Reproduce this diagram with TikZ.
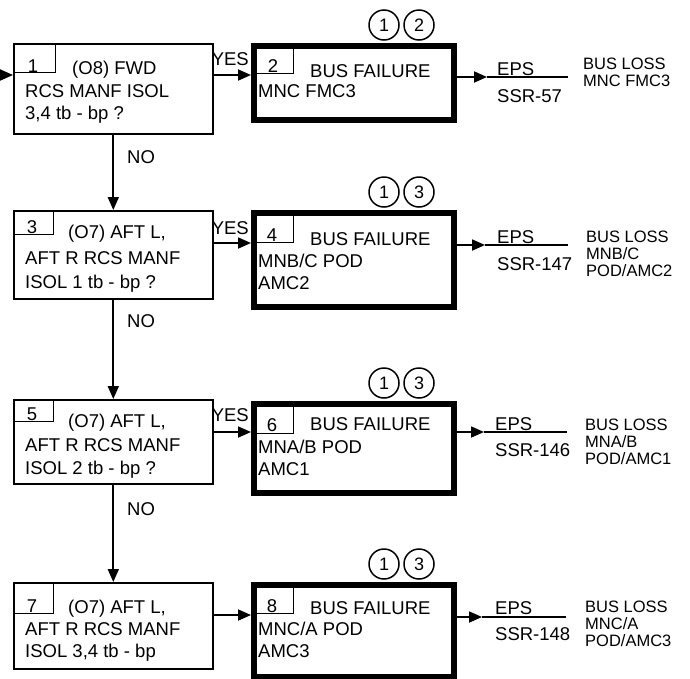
\documentclass[tikz,border=0pt]{standalone}
\usepackage{fontspec}
\setmainfont{Liberation Sans}
\usetikzlibrary{arrows.meta}
\begin{document}
\begin{tikzpicture}[x=1pt,y=-1pt,
  lbox/.style={draw, line width=1.6pt, minimum width=199pt, anchor=north west, inner sep=0pt},
  rbox/.style={draw, line width=5.5pt, minimum width=200pt, anchor=north west, inner sep=0pt},
  nbox/.style={draw, line width=1.4pt, anchor=north west, inner sep=0pt},
  txt/.style={anchor=base west, inner sep=0pt, font=\fontsize{18.5}{22}\selectfont},
  dig/.style={anchor=base, inner sep=0pt, font=\fontsize{18.5}{22}\selectfont},
  loss/.style={anchor=base west, inner sep=0pt, font=\fontsize{16.5}{16}\selectfont},
  circ/.style={draw, circle, line width=1.5pt, minimum size=30pt, inner sep=0pt, font=\fontsize{18}{18}\selectfont},
  arr/.style={line width=1.8pt, -{Triangle[length=13pt,width=11pt]}},
  ln/.style={line width=1.8pt},
]
\useasboundingbox (0,0) rectangle (690,678);

% ---------- Row 1 ----------
\node[lbox, minimum height=90pt] (b1) at (13,43) {};
\node[nbox, minimum width=42pt, minimum height=29pt] (n1) at (13,43) {};
\node[dig] (d1) at (33,72) {1};
\node[txt] (t1a) at (72,74) {(O8) FWD};
\node[txt] (t1b) at (25,97) {RCS MANF ISOL};
\node[txt] (t1c) at (25,119) {3,4 tb - bp ?};

\node[rbox, minimum height=74pt] (b2) at (251,43) {};
\node[nbox, minimum width=42pt, minimum height=30pt] (n2) at (251,43) {};
\node[dig] (d2) at (273,72) {2};
\node[txt] (t2a) at (310,77) {BUS FAILURE};
\node[txt] (t2b) at (258,97) {MNC FMC3};
\node[circ] (c2a) at (384,25) {1};
\node[circ] (c2b) at (419,25) {2};

\coordinate (in1) at (0,75);
\coordinate (y1) at (0,75);
\draw[arr] (in1) -- (in1 -| b1.west);
\draw[arr] (b1.east |- y1) -- (b2.west |- y1);
\node[txt, anchor=base east] (yes1) at (249,65) {YES};

\coordinate (o1) at (487,77);
\coordinate (e1) at (568,77);
\draw[arr] (b2.east |- o1) -- (o1);
\draw[ln] (o1) -- (e1);
\node[txt] (eps1) at (497,75) {EPS};
\node[txt] (ssr1) at (497,102) {SSR-57};
\node[loss] (l1a) at (583,69) {BUS LOSS};
\node[loss] (l1b) at (583,86) {MNC FMC3};

\node[txt] (no1) at (127,163) {NO};

% ---------- Row 2 ----------
\node[lbox, minimum height=88pt] (b3) at (13,210) {};
\node[nbox, minimum width=40pt, minimum height=24pt] (n3) at (13,210) {};
\node[dig] (d3) at (32,233) {3};
\node[txt] (t3a) at (68,238) {(O7) AFT L,};
\node[txt] (t3b) at (25,264) {AFT R RCS MANF};
\node[txt] (t3c) at (25,288) {ISOL 1 tb - bp ?};

\node[rbox, minimum height=94pt] (b4) at (251,210) {};
\node[nbox, minimum width=42pt, minimum height=32pt] (n4) at (251,210) {};
\node[dig] (d4) at (272,241) {4};
\node[txt] (t4a) at (310,245) {BUS FAILURE};
\node[txt] (t4b) at (258,267) {MNB/C POD};
\node[txt] (t4c) at (258,289) {AMC2};
\node[circ] (c4a) at (384,192) {1};
\node[circ] (c4b) at (419,192) {3};

\draw[arr] (b1.south) -- (b3.north);
\coordinate (y2) at (0,243);
\draw[arr] (b3.east |- y2) -- (b4.west |- y2);
\node[txt, anchor=base east] (yes2) at (249,234) {YES};

\coordinate (o2) at (485,245);
\coordinate (e2) at (568,245);
\draw[arr] (b4.east |- o2) -- (o2);
\draw[ln] (o2) -- (e2);
\node[txt] (eps2) at (497,243) {EPS};
\node[txt] (ssr2) at (497,270) {SSR-147};
\node[loss] (l2a) at (586,242) {BUS LOSS};
\node[loss] (l2b) at (586,259) {MNB/C};
\node[loss] (l2c) at (586,276) {POD/AMC2};

\node[txt] (no2) at (127,327) {NO};

% ---------- Row 3 ----------
\node[lbox, minimum height=84pt] (b5) at (13,399) {};
\node[nbox, minimum width=40pt, minimum height=22pt] (n5) at (13,399) {};
\node[dig] (d5) at (32,420) {5};
\node[txt] (t5a) at (68,427) {(O7) AFT L,};
\node[txt] (t5b) at (25,451) {AFT R RCS MANF};
\node[txt] (t5c) at (25,474) {ISOL 2 tb - bp ?};

\node[rbox, minimum height=89pt] (b6) at (251,401) {};
\node[nbox, minimum width=42pt, minimum height=32pt] (n6) at (251,401) {};
\node[dig] (d6) at (272,431) {6};
\node[txt] (t6a) at (310,430) {BUS FAILURE};
\node[txt] (t6b) at (258,453) {MNA/B POD};
\node[txt] (t6c) at (258,475) {AMC1};
\node[circ] (c6a) at (384,383) {1};
\node[circ] (c6b) at (419,383) {3};

\draw[arr] (b3.south) -- (b5.north);
\coordinate (y3) at (0,432);
\draw[arr] (b5.east |- y3) -- (b6.west |- y3);
\node[txt, anchor=base east] (yes3) at (249,421) {YES};

\coordinate (o3) at (484,432);
\coordinate (e3) at (567,432);
\draw[arr] (b6.east |- o3) -- (o3);
\draw[ln] (o3) -- (e3);
\node[txt] (eps3) at (495,430) {EPS};
\node[txt] (ssr3) at (495,456) {SSR-146};
\node[loss] (l3a) at (585,430) {BUS LOSS};
\node[loss] (l3b) at (585,447) {MNA/B};
\node[loss] (l3c) at (585,464) {POD/AMC1};

\node[txt] (no3) at (127,515) {NO};

% ---------- Row 4 ----------
\node[lbox, minimum height=86pt] (b7) at (13,582) {};
\node[nbox, minimum width=40pt, minimum height=31pt] (n7) at (13,582) {};
\node[dig] (d7) at (32,612) {7};
\node[txt] (t7a) at (68,613) {(O7) AFT L,};
\node[txt] (t7b) at (25,635) {AFT R RCS MANF};
\node[txt] (t7c) at (25,657) {ISOL 3,4 tb - bp};

\node[rbox, minimum height=92pt] (b8) at (251,582) {};
\node[nbox, minimum width=42pt, minimum height=31pt] (n8) at (251,582) {};
\node[dig] (d8) at (272,612) {8};
\node[txt] (t8a) at (310,614) {BUS FAILURE};
\node[txt] (t8b) at (258,635) {MNC/A POD};
\node[txt] (t8c) at (258,657) {AMC3};
\node[circ] (c8a) at (384,564) {1};
\node[circ] (c8b) at (419,564) {3};

\draw[arr] (b5.south) -- (b7.north);
\coordinate (y4) at (0,615);
\draw[arr] (b7.east |- y4) -- (b8.west |- y4);

\coordinate (o4) at (482,617);
\coordinate (e4) at (566,617);
\draw[arr] (b8.east |- o4) -- (o4);
\draw[ln] (o4) -- (e4);
\node[txt] (eps4) at (495,614) {EPS};
\node[txt] (ssr4) at (495,640) {SSR-148};
\node[loss] (l4a) at (585,612) {BUS LOSS};
\node[loss] (l4b) at (585,629) {MNC/A};
\node[loss] (l4c) at (585,646) {POD/AMC3};
\end{tikzpicture}
\end{document}
